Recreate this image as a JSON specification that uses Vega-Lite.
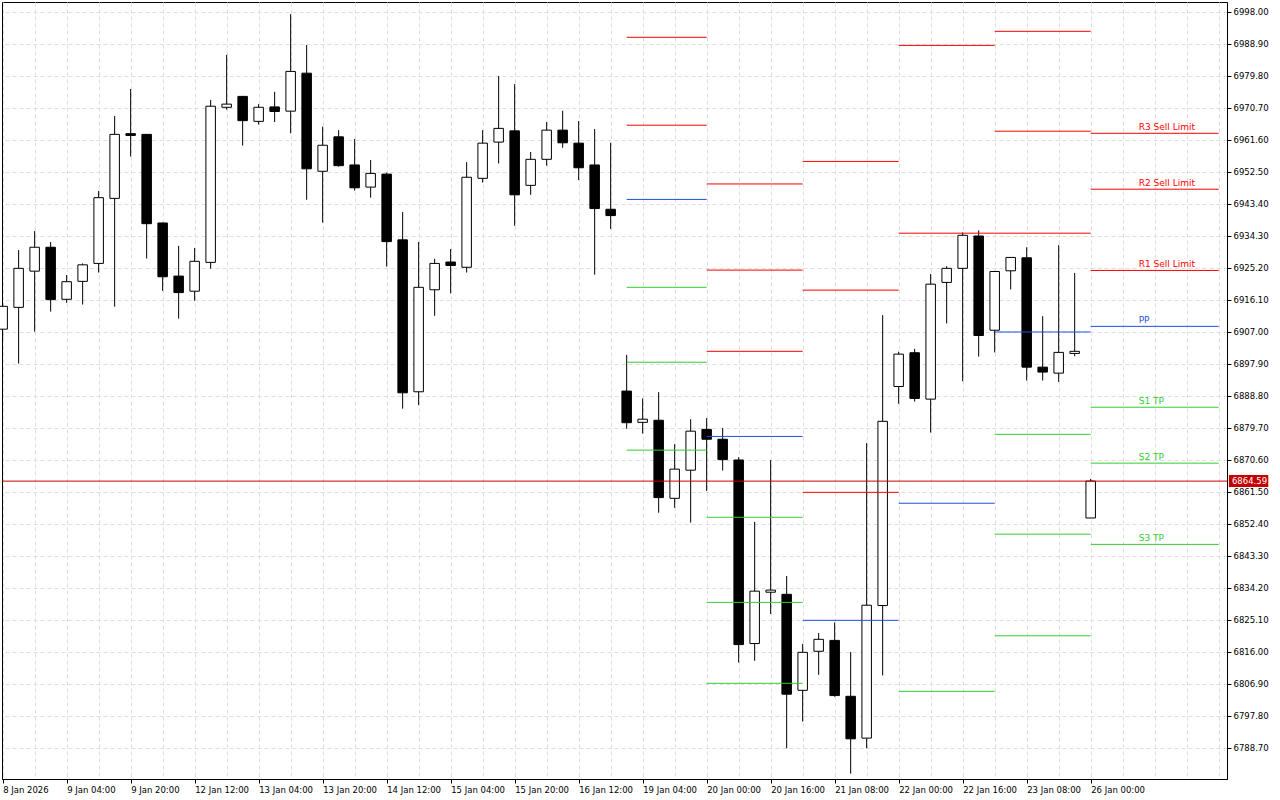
{
  "$schema": "https://vega.github.io/schema/vega-lite/v6.json",
  "width": 1225,
  "height": 777,
  "autosize": {"type": "none"},
  "padding": {"left": 2, "top": 2, "right": 53, "bottom": 21},
  "background": "white",
  "config": {
    "font": "DejaVu Sans",
    "view": {"stroke": "black", "strokeWidth": 1}
  },
  "resolve": {"axis": {"x": "independent", "y": "independent"}},
  "datasets": {
    "candles": [
      {"i": 0, "o": 6907.8, "h": 6915.5, "l": 6905.0, "c": 6914.3},
      {"i": 1, "o": 6914.0, "h": 6930.3, "l": 6898.0, "c": 6925.1},
      {"i": 2, "o": 6924.3, "h": 6935.7, "l": 6907.1, "c": 6931.1},
      {"i": 3, "o": 6931.1, "h": 6932.6, "l": 6912.8, "c": 6916.2},
      {"i": 4, "o": 6916.3, "h": 6923.2, "l": 6915.3, "c": 6921.3},
      {"i": 5, "o": 6921.4, "h": 6926.5, "l": 6914.8, "c": 6926.1},
      {"i": 6, "o": 6926.5, "h": 6947.1, "l": 6923.9, "c": 6945.2},
      {"i": 7, "o": 6945.0, "h": 6968.4, "l": 6914.2, "c": 6963.2},
      {"i": 8, "o": 6963.4, "h": 6976.1, "l": 6956.9, "c": 6962.9},
      {"i": 9, "o": 6963.2, "h": 6963.3, "l": 6927.9, "c": 6937.8},
      {"i": 10, "o": 6938.0, "h": 6938.1, "l": 6918.7, "c": 6922.7},
      {"i": 11, "o": 6922.9, "h": 6931.5, "l": 6910.8, "c": 6918.2},
      {"i": 12, "o": 6918.6, "h": 6930.9, "l": 6915.9, "c": 6927.1},
      {"i": 13, "o": 6926.8, "h": 6973.0, "l": 6925.0, "c": 6971.2},
      {"i": 14, "o": 6970.9, "h": 6985.8, "l": 6970.2, "c": 6971.8},
      {"i": 15, "o": 6974.0, "h": 6974.1, "l": 6960.0, "c": 6967.1},
      {"i": 16, "o": 6966.9, "h": 6971.8, "l": 6966.0, "c": 6970.9},
      {"i": 17, "o": 6971.0, "h": 6975.3, "l": 6966.7, "c": 6969.7},
      {"i": 18, "o": 6969.8, "h": 6997.4, "l": 6963.5, "c": 6981.1},
      {"i": 19, "o": 6980.6, "h": 6988.6, "l": 6944.6, "c": 6953.4},
      {"i": 20, "o": 6952.7, "h": 6965.4, "l": 6938.1, "c": 6960.1},
      {"i": 21, "o": 6962.5, "h": 6964.4, "l": 6954.0, "c": 6954.3},
      {"i": 22, "o": 6954.5, "h": 6961.9, "l": 6947.2, "c": 6948.0},
      {"i": 23, "o": 6948.2, "h": 6955.9, "l": 6945.2, "c": 6952.1},
      {"i": 24, "o": 6951.9, "h": 6952.3, "l": 6925.6, "c": 6932.7},
      {"i": 25, "o": 6933.2, "h": 6941.1, "l": 6885.2, "c": 6889.7},
      {"i": 26, "o": 6890.0, "h": 6932.6, "l": 6886.2, "c": 6919.7},
      {"i": 27, "o": 6919.0, "h": 6927.8, "l": 6911.6, "c": 6926.5},
      {"i": 28, "o": 6926.9, "h": 6930.6, "l": 6918.0, "c": 6925.9},
      {"i": 29, "o": 6925.4, "h": 6955.3, "l": 6923.9, "c": 6951.0},
      {"i": 30, "o": 6950.7, "h": 6964.4, "l": 6949.5, "c": 6960.7},
      {"i": 31, "o": 6961.0, "h": 6979.8, "l": 6954.9, "c": 6964.9},
      {"i": 32, "o": 6964.2, "h": 6977.5, "l": 6937.2, "c": 6946.0},
      {"i": 33, "o": 6948.7, "h": 6958.2, "l": 6946.0, "c": 6956.1},
      {"i": 34, "o": 6956.1, "h": 6966.7, "l": 6954.3, "c": 6964.4},
      {"i": 35, "o": 6964.4, "h": 6969.9, "l": 6959.4, "c": 6960.8},
      {"i": 36, "o": 6960.7, "h": 6967.0, "l": 6950.2, "c": 6953.7},
      {"i": 37, "o": 6954.5, "h": 6964.7, "l": 6923.3, "c": 6942.1},
      {"i": 38, "o": 6941.9, "h": 6960.8, "l": 6936.3, "c": 6940.1},
      {"i": 39, "o": 6890.2, "h": 6900.5, "l": 6879.5, "c": 6881.2},
      {"i": 40, "o": 6881.3, "h": 6888.1, "l": 6878.1, "c": 6882.2},
      {"i": 41, "o": 6881.9, "h": 6889.9, "l": 6855.6, "c": 6859.9},
      {"i": 42, "o": 6859.7, "h": 6875.1, "l": 6857.0, "c": 6868.0},
      {"i": 43, "o": 6867.7, "h": 6882.2, "l": 6852.8, "c": 6878.8},
      {"i": 44, "o": 6879.3, "h": 6882.5, "l": 6861.8, "c": 6876.5},
      {"i": 45, "o": 6876.5, "h": 6879.7, "l": 6867.6, "c": 6870.7},
      {"i": 46, "o": 6870.6, "h": 6871.4, "l": 6813.0, "c": 6818.1},
      {"i": 47, "o": 6818.4, "h": 6853.0, "l": 6813.5, "c": 6833.3},
      {"i": 48, "o": 6833.0, "h": 6870.6, "l": 6826.8, "c": 6833.6},
      {"i": 49, "o": 6832.4, "h": 6837.6, "l": 6788.6, "c": 6804.0},
      {"i": 50, "o": 6805.1, "h": 6818.3, "l": 6796.2, "c": 6815.9},
      {"i": 51, "o": 6816.2, "h": 6821.4, "l": 6809.5, "c": 6819.6},
      {"i": 52, "o": 6819.3, "h": 6824.4, "l": 6803.3, "c": 6803.6},
      {"i": 53, "o": 6803.4, "h": 6816.0, "l": 6781.4, "c": 6791.3},
      {"i": 54, "o": 6791.5, "h": 6875.4, "l": 6788.6, "c": 6829.3},
      {"i": 55, "o": 6829.2, "h": 6911.8, "l": 6809.3, "c": 6881.6},
      {"i": 56, "o": 6891.5, "h": 6901.4, "l": 6886.6, "c": 6900.7},
      {"i": 57, "o": 6901.1, "h": 6902.2, "l": 6887.2, "c": 6888.1},
      {"i": 58, "o": 6887.9, "h": 6923.5, "l": 6878.4, "c": 6920.6},
      {"i": 59, "o": 6921.1, "h": 6925.7, "l": 6909.4, "c": 6925.1},
      {"i": 60, "o": 6925.1, "h": 6935.3, "l": 6893.0, "c": 6934.5},
      {"i": 61, "o": 6934.3, "h": 6935.9, "l": 6900.0, "c": 6906.0},
      {"i": 62, "o": 6907.5, "h": 6924.4, "l": 6901.2, "c": 6924.2},
      {"i": 63, "o": 6924.4, "h": 6928.3, "l": 6919.1, "c": 6928.2},
      {"i": 64, "o": 6928.1, "h": 6931.1, "l": 6893.2, "c": 6897.0},
      {"i": 65, "o": 6897.0, "h": 6911.5, "l": 6893.2, "c": 6895.6},
      {"i": 66, "o": 6895.3, "h": 6931.7, "l": 6892.8, "c": 6901.2},
      {"i": 67, "o": 6900.9, "h": 6923.8, "l": 6900.1, "c": 6901.5},
      {"i": 68, "o": 6854.1, "h": 6865.2, "l": 6854.1, "c": 6864.59}
    ],
    "pivots": [
      {"day": "19 Jan", "s": 39, "e": 44, "lvl": "R2", "price": 6990.8},
      {"day": "19 Jan", "s": 39, "e": 44, "lvl": "R1", "price": 6965.8},
      {"day": "19 Jan", "s": 39, "e": 44, "lvl": "PP", "price": 6944.7},
      {"day": "19 Jan", "s": 39, "e": 44, "lvl": "S1", "price": 6919.7},
      {"day": "19 Jan", "s": 39, "e": 44, "lvl": "S2", "price": 6898.4},
      {"day": "19 Jan", "s": 39, "e": 44, "lvl": "S3", "price": 6873.4},
      {"day": "20 Jan", "s": 44, "e": 50, "lvl": "R3", "price": 6949.1},
      {"day": "20 Jan", "s": 44, "e": 50, "lvl": "R2", "price": 6924.6},
      {"day": "20 Jan", "s": 44, "e": 50, "lvl": "R1", "price": 6901.5},
      {"day": "20 Jan", "s": 44, "e": 50, "lvl": "PP", "price": 6877.3},
      {"day": "20 Jan", "s": 44, "e": 50, "lvl": "S1", "price": 6854.3},
      {"day": "20 Jan", "s": 44, "e": 50, "lvl": "S2", "price": 6830.1},
      {"day": "20 Jan", "s": 44, "e": 50, "lvl": "S3", "price": 6807.1},
      {"day": "21 Jan", "s": 50, "e": 56, "lvl": "R3", "price": 6955.5},
      {"day": "21 Jan", "s": 50, "e": 56, "lvl": "R2", "price": 6918.9},
      {"day": "21 Jan", "s": 50, "e": 56, "lvl": "R1", "price": 6861.4},
      {"day": "21 Jan", "s": 50, "e": 56, "lvl": "PP", "price": 6825.0},
      {"day": "22 Jan", "s": 56, "e": 62, "lvl": "R2", "price": 6988.5},
      {"day": "22 Jan", "s": 56, "e": 62, "lvl": "R1", "price": 6935.1},
      {"day": "22 Jan", "s": 56, "e": 62, "lvl": "PP", "price": 6858.3},
      {"day": "22 Jan", "s": 56, "e": 62, "lvl": "S1", "price": 6804.8},
      {"day": "23 Jan", "s": 62, "e": 68, "lvl": "R3", "price": 6992.5},
      {"day": "23 Jan", "s": 62, "e": 68, "lvl": "R2", "price": 6964.1},
      {"day": "23 Jan", "s": 62, "e": 68, "lvl": "R1", "price": 6935.1},
      {"day": "23 Jan", "s": 62, "e": 68, "lvl": "PP", "price": 6907.0},
      {"day": "23 Jan", "s": 62, "e": 68, "lvl": "S1", "price": 6877.9},
      {"day": "23 Jan", "s": 62, "e": 68, "lvl": "S2", "price": 6849.5},
      {"day": "23 Jan", "s": 62, "e": 68, "lvl": "S3", "price": 6820.6},
      {"day": "26 Jan", "s": 68, "e": 76, "lvl": "R3", "price": 6963.5, "label": "R3 Sell Limit"},
      {"day": "26 Jan", "s": 68, "e": 76, "lvl": "R2", "price": 6947.6, "label": "R2 Sell Limit"},
      {"day": "26 Jan", "s": 68, "e": 76, "lvl": "R1", "price": 6924.5, "label": "R1 Sell Limit"},
      {"day": "26 Jan", "s": 68, "e": 76, "lvl": "PP", "price": 6908.6, "label": "PP"},
      {"day": "26 Jan", "s": 68, "e": 76, "lvl": "S1", "price": 6885.6, "label": "S1 TP"},
      {"day": "26 Jan", "s": 68, "e": 76, "lvl": "S2", "price": 6869.7, "label": "S2 TP"},
      {"day": "26 Jan", "s": 68, "e": 76, "lvl": "S3", "price": 6846.6, "label": "S3 TP"}
    ],
    "quote": [{"price": 6864.59}]
  },
  "layer": [
    {
      "data": {"name": "candles"},
      "mark": {"type": "rule", "color": "black", "strokeWidth": 1},
      "encoding": {
        "x": {
          "field": "i", "type": "quantitative",
          "scale": {"domain": [-0.04, 76.52], "nice": false, "zero": false, "padding": 0},
          "axis": {
            "orient": "bottom", "title": null,
            "values": [0,2,4,6,8,10,12,14,16,18,20,22,24,26,28,30,32,34,36,38,40,42,44,46,48,50,52,54,56,58,60,62,64,66,68,70,72,74,76],
            "labelExpr": "datum.value % 4 === 0 ? ['8 Jan 2026','9 Jan 04:00','9 Jan 20:00','12 Jan 12:00','13 Jan 04:00','13 Jan 20:00','14 Jan 12:00','15 Jan 04:00','15 Jan 20:00','16 Jan 12:00','19 Jan 04:00','20 Jan 00:00','20 Jan 16:00','21 Jan 08:00','22 Jan 00:00','22 Jan 16:00','23 Jan 08:00','26 Jan 00:00','',''][datum.value / 4] : ''",
            "grid": true, "gridDash": [4, 3], "gridColor": "#dedede", "gridWidth": 1,
            "tickSize": 4, "tickColor": "black",
            "tickOpacity": {"condition": {"test": "datum.value % 4 === 0 && datum.value <= 68", "value": 1}, "value": 0},
            "domain": true, "domainColor": "black",
            "labelAlign": "left", "labelBaseline": "top", "labelPadding": 2,
            "labelFontSize": 8.5, "labelColor": "black",
            "labelFlush": false, "labelOverlap": false, "labelBound": false
          }
        },
        "y": {
          "field": "l", "type": "quantitative",
          "scale": {"domain": [6779.88, 7000.84], "nice": false, "zero": false, "padding": 0},
          "axis": {
            "orient": "right", "title": null,
            "values": [6998.0, 6988.9, 6979.8, 6970.7, 6961.6, 6952.5, 6943.4, 6934.3, 6925.2, 6916.1, 6907.0, 6897.9, 6888.8, 6879.7, 6870.6, 6861.5, 6852.4, 6843.3, 6834.2, 6825.1, 6816.0, 6806.9, 6797.8, 6788.7],
            "format": ".2f",
            "grid": true, "gridDash": [4, 3], "gridColor": "#dedede", "gridWidth": 1,
            "tickSize": 4, "tickColor": "black",
            "domain": true, "domainColor": "black",
            "labelPadding": 2, "labelFontSize": 8.5, "labelColor": "black",
            "labelFlush": false, "labelOverlap": false, "labelBound": false
          }
        },
        "y2": {"field": "h"}
      }
    },
    {
      "data": {"name": "candles"},
      "mark": {"type": "bar", "orient": "vertical", "size": 9.5, "stroke": "black", "strokeWidth": 1},
      "encoding": {
        "x": {"field": "i", "type": "quantitative", "scale": {"domain": [-0.04, 76.52], "nice": false, "zero": false, "padding": 0}, "axis": null},
        "y": {"field": "o", "type": "quantitative", "scale": {"domain": [6779.88, 7000.84], "nice": false, "zero": false, "padding": 0}, "axis": null},
        "y2": {"field": "c"},
        "fill": {"condition": {"test": "datum.c >= datum.o", "value": "white"}, "value": "black"}
      }
    },
    {
      "data": {"name": "pivots"},
      "mark": {"type": "rule", "strokeWidth": 1},
      "encoding": {
        "x": {"field": "s", "type": "quantitative", "scale": {"domain": [-0.04, 76.52], "nice": false, "zero": false, "padding": 0}, "axis": null},
        "x2": {"field": "e"},
        "y": {"field": "price", "type": "quantitative", "scale": {"domain": [6779.88, 7000.84], "nice": false, "zero": false, "padding": 0}, "axis": null},
        "color": {
          "field": "lvl", "type": "nominal", "legend": null,
          "scale": {"domain": ["R3", "R2", "R1", "PP", "S1", "S2", "S3"], "range": ["#ff0000", "#ff0000", "#ff0000", "#1e50dc", "#32cd32", "#32cd32", "#32cd32"]}
        }
      }
    },
    {
      "data": {"name": "quote"},
      "mark": {"type": "rule", "color": "#d00000", "strokeWidth": 1},
      "encoding": {
        "y": {"field": "price", "type": "quantitative", "scale": {"domain": [6779.88, 7000.84], "nice": false, "zero": false, "padding": 0}, "axis": null}
      }
    },
    {
      "data": {"name": "pivots"},
      "transform": [{"filter": "isValid(datum.label)"}],
      "mark": {"type": "text", "align": "left", "baseline": "alphabetic", "dy": -3, "fontSize": 9},
      "encoding": {
        "x": {"datum": 71, "type": "quantitative", "scale": {"domain": [-0.04, 76.52], "nice": false, "zero": false, "padding": 0}, "axis": null},
        "y": {"field": "price", "type": "quantitative", "scale": {"domain": [6779.88, 7000.84], "nice": false, "zero": false, "padding": 0}, "axis": null},
        "text": {"field": "label"},
        "color": {
          "field": "lvl", "type": "nominal", "legend": null,
          "scale": {"domain": ["R3", "R2", "R1", "PP", "S1", "S2", "S3"], "range": ["#ff0000", "#ff0000", "#ff0000", "#1e50dc", "#32cd32", "#32cd32", "#32cd32"]}
        }
      }
    },
    {
      "data": {"name": "quote"},
      "mark": {"type": "bar", "orient": "horizontal", "size": 12, "color": "#c40000"},
      "encoding": {
        "x": {"datum": 76.64, "type": "quantitative", "scale": {"domain": [-0.04, 76.52], "nice": false, "zero": false, "padding": 0}, "axis": null},
        "x2": {"datum": 79.1},
        "y": {"field": "price", "type": "quantitative", "scale": {"domain": [6779.88, 7000.84], "nice": false, "zero": false, "padding": 0}, "axis": null}
      }
    },
    {
      "data": {"name": "quote"},
      "mark": {"type": "text", "align": "left", "baseline": "middle", "dx": 3, "fontSize": 8.5, "color": "white"},
      "encoding": {
        "x": {"datum": 76.64, "type": "quantitative", "scale": {"domain": [-0.04, 76.52], "nice": false, "zero": false, "padding": 0}, "axis": null},
        "y": {"field": "price", "type": "quantitative", "scale": {"domain": [6779.88, 7000.84], "nice": false, "zero": false, "padding": 0}, "axis": null},
        "text": {"field": "price", "format": ".2f"}
      }
    }
  ]
}
